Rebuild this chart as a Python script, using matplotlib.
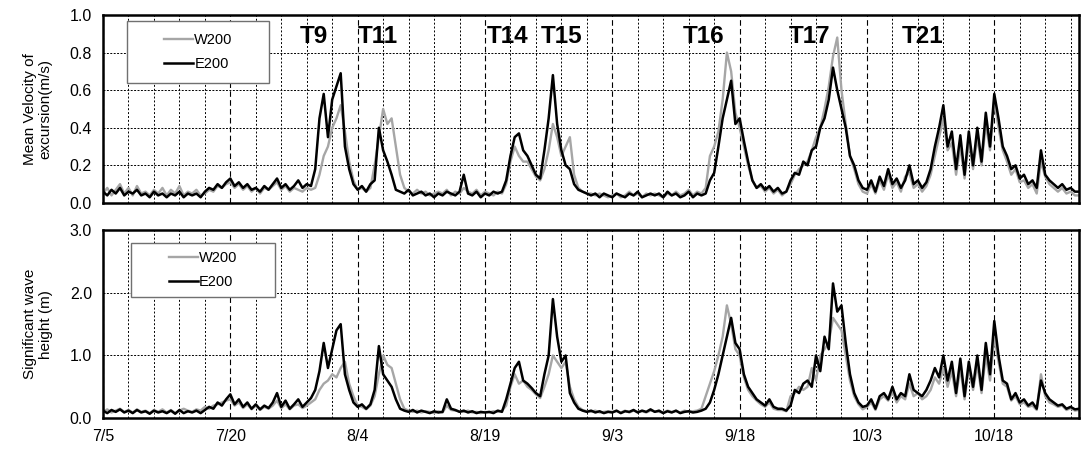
import numpy as np
import pandas as pd
import matplotlib
matplotlib.use('Agg')
import matplotlib.pyplot as plt
import matplotlib.dates as mdates
from matplotlib.patches import Rectangle

plt.rcParams['font.family'] = ['Liberation Sans', 'DejaVu Sans']

# half-daily samples starting 7/5
t = pd.date_range('2004-07-05', periods=231, freq='12h')

vel_e = [0.06,0.04,0.07,0.05,0.08,0.04,0.06,0.05,0.07,0.04,
         0.05,0.03,0.06,0.04,0.05,0.03,0.05,0.04,0.06,0.03,
         0.05,0.04,0.05,0.03,0.06,0.08,0.07,0.10,0.08,0.11,
         0.13,0.09,0.11,0.08,0.10,0.07,0.08,0.06,0.09,0.07,
         0.10,0.13,0.08,0.10,0.07,0.09,0.12,0.08,0.10,0.09,
         0.18,0.45,0.58,0.35,0.55,0.62,0.69,0.30,0.18,0.10,
         0.07,0.09,0.06,0.10,0.12,0.40,0.28,0.22,0.15,0.07,
         0.06,0.05,0.07,0.04,0.05,0.06,0.04,0.05,0.03,0.05,
         0.04,0.06,0.05,0.04,0.06,0.15,0.05,0.04,0.06,0.03,
         0.05,0.04,0.06,0.05,0.06,0.12,0.25,0.35,0.37,0.28,
         0.25,0.20,0.15,0.13,0.28,0.45,0.68,0.42,0.28,0.20,
         0.18,0.10,0.07,0.06,0.05,0.04,0.05,0.03,0.05,0.04,
         0.03,0.05,0.04,0.03,0.05,0.04,0.06,0.03,0.04,0.05,
         0.04,0.05,0.03,0.06,0.04,0.05,0.03,0.04,0.06,0.03,
         0.05,0.04,0.05,0.12,0.16,0.30,0.45,0.55,0.65,0.42,
         0.45,0.33,0.22,0.12,0.08,0.10,0.07,0.09,0.06,0.08,
         0.05,0.06,0.12,0.16,0.15,0.22,0.20,0.28,0.30,0.40,
         0.45,0.55,0.72,0.60,0.50,0.40,0.25,0.20,0.12,0.08,
         0.07,0.12,0.06,0.14,0.09,0.18,0.10,0.13,0.08,0.12,
         0.20,0.10,0.12,0.08,0.11,0.18,0.30,0.40,0.52,0.30,
         0.38,0.18,0.36,0.15,0.38,0.20,0.40,0.22,0.48,0.30,
         0.58,0.45,0.30,0.25,0.18,0.20,0.13,0.15,0.10,0.12,
         0.08,0.28,0.15,0.12,0.10,0.08,0.10,0.07,0.08,0.06,
         0.06]

vel_w = [0.05,0.08,0.04,0.07,0.10,0.05,0.08,0.04,0.09,0.05,
         0.06,0.04,0.07,0.05,0.08,0.04,0.07,0.05,0.09,0.04,
         0.06,0.05,0.07,0.04,0.05,0.07,0.06,0.09,0.08,0.10,
         0.11,0.08,0.10,0.07,0.09,0.06,0.08,0.05,0.08,0.07,
         0.09,0.11,0.07,0.09,0.06,0.08,0.07,0.06,0.08,0.07,
         0.08,0.15,0.25,0.30,0.40,0.45,0.52,0.38,0.22,0.12,
         0.07,0.08,0.06,0.08,0.20,0.35,0.50,0.42,0.45,0.30,
         0.15,0.08,0.06,0.05,0.07,0.05,0.06,0.04,0.05,0.06,
         0.05,0.07,0.04,0.06,0.05,0.08,0.06,0.05,0.07,0.04,
         0.06,0.05,0.04,0.06,0.05,0.10,0.22,0.30,0.25,0.22,
         0.22,0.18,0.14,0.12,0.18,0.28,0.42,0.35,0.25,0.30,
         0.35,0.15,0.08,0.06,0.05,0.05,0.04,0.05,0.04,0.03,
         0.04,0.05,0.03,0.04,0.06,0.04,0.05,0.03,0.05,0.04,
         0.05,0.04,0.03,0.05,0.04,0.06,0.04,0.05,0.07,0.04,
         0.06,0.05,0.08,0.25,0.30,0.38,0.55,0.80,0.70,0.48,
         0.40,0.30,0.20,0.12,0.08,0.09,0.06,0.08,0.05,0.07,
         0.04,0.06,0.10,0.15,0.18,0.20,0.22,0.28,0.35,0.40,
         0.50,0.62,0.78,0.88,0.60,0.42,0.25,0.18,0.10,0.06,
         0.05,0.10,0.05,0.12,0.07,0.15,0.08,0.11,0.06,0.14,
         0.16,0.08,0.10,0.06,0.09,0.15,0.25,0.35,0.45,0.28,
         0.32,0.15,0.30,0.13,0.33,0.18,0.35,0.20,0.42,0.28,
         0.55,0.40,0.28,0.22,0.15,0.18,0.11,0.12,0.08,0.10,
         0.05,0.22,0.14,0.10,0.08,0.06,0.08,0.05,0.06,0.04,
         0.04]

hs_e = [0.12,0.08,0.13,0.10,0.14,0.09,0.12,0.08,0.13,0.09,
        0.11,0.07,0.12,0.09,0.11,0.08,0.12,0.07,0.13,0.08,
        0.11,0.09,0.12,0.08,0.13,0.18,0.15,0.25,0.20,0.30,
        0.38,0.22,0.30,0.18,0.25,0.15,0.22,0.14,0.20,0.16,
        0.25,0.40,0.18,0.28,0.15,0.22,0.30,0.18,0.25,0.32,
        0.45,0.75,1.20,0.80,1.10,1.40,1.50,0.70,0.45,0.25,
        0.18,0.22,0.15,0.22,0.45,1.15,0.70,0.60,0.50,0.30,
        0.15,0.12,0.10,0.13,0.09,0.12,0.10,0.08,0.11,0.09,
        0.10,0.30,0.15,0.13,0.10,0.12,0.09,0.11,0.08,0.10,
        0.09,0.10,0.08,0.12,0.10,0.30,0.55,0.80,0.90,0.60,
        0.55,0.48,0.40,0.35,0.70,1.00,1.90,1.30,0.90,1.00,
        0.40,0.25,0.15,0.12,0.10,0.12,0.09,0.11,0.08,0.10,
        0.09,0.12,0.08,0.11,0.10,0.13,0.09,0.12,0.10,0.14,
        0.10,0.12,0.08,0.11,0.09,0.12,0.08,0.10,0.11,0.09,
        0.10,0.12,0.15,0.25,0.45,0.70,1.00,1.30,1.60,1.20,
        1.10,0.70,0.50,0.40,0.30,0.25,0.20,0.30,0.18,0.15,
        0.15,0.12,0.20,0.45,0.40,0.55,0.60,0.50,1.00,0.75,
        1.30,1.10,2.15,1.70,1.80,1.20,0.70,0.40,0.25,0.18,
        0.20,0.30,0.15,0.35,0.40,0.30,0.50,0.30,0.40,0.35,
        0.70,0.45,0.40,0.35,0.45,0.60,0.80,0.65,1.00,0.60,
        0.90,0.40,0.95,0.35,0.90,0.50,1.00,0.45,1.20,0.70,
        1.55,1.00,0.60,0.55,0.30,0.40,0.25,0.30,0.20,0.25,
        0.15,0.60,0.40,0.30,0.25,0.20,0.22,0.15,0.18,0.14,
        0.15]

hs_w = [0.10,0.14,0.09,0.12,0.15,0.10,0.13,0.09,0.14,0.10,
        0.12,0.08,0.13,0.10,0.14,0.09,0.13,0.08,0.12,0.15,
        0.12,0.10,0.14,0.12,0.18,0.15,0.20,0.22,0.25,0.28,
        0.30,0.20,0.25,0.16,0.22,0.14,0.20,0.13,0.18,0.15,
        0.20,0.28,0.16,0.22,0.14,0.20,0.22,0.16,0.20,0.25,
        0.30,0.45,0.55,0.60,0.70,0.65,0.80,0.90,0.55,0.35,
        0.20,0.18,0.14,0.20,0.35,0.70,1.00,0.85,0.80,0.55,
        0.30,0.15,0.12,0.10,0.12,0.09,0.11,0.10,0.08,0.11,
        0.09,0.20,0.13,0.12,0.11,0.10,0.12,0.09,0.10,0.08,
        0.10,0.09,0.11,0.10,0.12,0.20,0.50,0.70,0.55,0.60,
        0.50,0.45,0.38,0.32,0.50,0.70,1.00,0.90,0.80,0.90,
        0.50,0.30,0.18,0.13,0.11,0.10,0.12,0.09,0.10,0.11,
        0.10,0.11,0.09,0.12,0.09,0.12,0.10,0.11,0.09,0.12,
        0.11,0.10,0.09,0.12,0.10,0.11,0.09,0.12,0.10,0.11,
        0.12,0.15,0.35,0.55,0.75,1.00,1.30,1.80,1.50,1.10,
        1.00,0.65,0.45,0.35,0.28,0.22,0.18,0.25,0.15,0.13,
        0.13,0.11,0.35,0.40,0.50,0.45,0.50,0.80,0.60,1.00,
        1.10,1.20,1.60,1.50,1.40,1.00,0.60,0.35,0.22,0.14,
        0.18,0.25,0.13,0.30,0.35,0.28,0.42,0.25,0.35,0.30,
        0.55,0.35,0.40,0.30,0.35,0.45,0.65,0.55,0.80,0.50,
        0.75,0.35,0.80,0.30,0.80,0.45,0.85,0.40,1.00,0.60,
        1.30,0.90,0.55,0.50,0.28,0.35,0.22,0.25,0.18,0.20,
        0.13,0.70,0.35,0.25,0.22,0.18,0.20,0.13,0.16,0.12,
        0.13]

typhoons = ['T9', 'T11', 'T14', 'T15', 'T16', 'T17', 'T21']
typhoon_day = [24.8, 32.4, 47.7, 54.0, 70.7, 83.2, 96.6]

start = pd.Timestamp('2004-07-05')
end = start + pd.Timedelta(days=115)

fig = plt.figure(figsize=(10.81, 4.54), dpi=100)
ax1 = fig.add_axes([0.0953, 0.553, 0.903, 0.414])
ax2 = fig.add_axes([0.0953, 0.079, 0.903, 0.414])

for ax, w, e, ymax, step, ylab in [
        (ax1, vel_w, vel_e, 1.0, 0.2, 'Mean Velocity of\nexcursion(m/s)'),
        (ax2, hs_w, hs_e, 3.0, 1.0, 'Significant wave\nheight (m)')]:
    ax.plot(t, w, color='#a6a6a6', lw=1.7, label='W200')
    ax.plot(t, e, color='black', lw=1.8, label='E200')
    ax.set_xlim(start, end)
    ax.set_ylim(0, ymax)
    ax.set_yticks(np.arange(0, ymax + 0.001, step))
    ax.yaxis.set_major_formatter(plt.FormatStrFormatter('%.1f'))
    ax.set_xticks(pd.date_range(start, end, freq='15D'))
    ax.set_xticks(pd.date_range(start, end, freq='3D'), minor=True)
    ax.grid(True, which='minor', axis='x', color='black', lw=0.7, ls=(0, (2, 2)))
    ax.grid(True, which='major', axis='x', color='black', lw=0.8, ls=(0, (5, 3)))
    ax.grid(True, which='major', axis='y', color='black', lw=0.7, ls=(0, (2, 1.5)))
    ax.tick_params(which='both', length=0, labelsize=11.5, pad=8)
    ax.set_ylabel(ylab, fontsize=11, labelpad=12)
    for s in ax.spines.values():
        s.set_linewidth(1.8)

ax1.set_xticklabels([])
ax2.xaxis.set_major_formatter(mdates.DateFormatter('%-m/%-d'))

for name, d in zip(typhoons, typhoon_day):
    ax1.text(start + pd.Timedelta(days=d), 0.885, name, fontsize=17.5,
             fontweight='bold', ha='center', va='center')

# legends: frameless legend centred in a plain grey box
for ax, (x0, y0, w, h) in [(ax1, (0.025, 0.638, 0.145, 0.330)),
                           (ax2, (0.029, 0.644, 0.147, 0.287))]:
    ax.add_patch(Rectangle((x0, y0), w, h, transform=ax.transAxes, facecolor='white',
                           edgecolor='#707070', lw=1.0, zorder=5))
    leg = ax.legend(loc='center', bbox_to_anchor=(x0 + w / 2, y0 + h / 2),
                    frameon=False, fontsize=10.5, handlelength=2.0,
                    handletextpad=0.1, labelspacing=0.7, borderaxespad=0,
                    borderpad=0)
    leg.set_zorder(6)

fig.savefig('out.png', dpi=100)
